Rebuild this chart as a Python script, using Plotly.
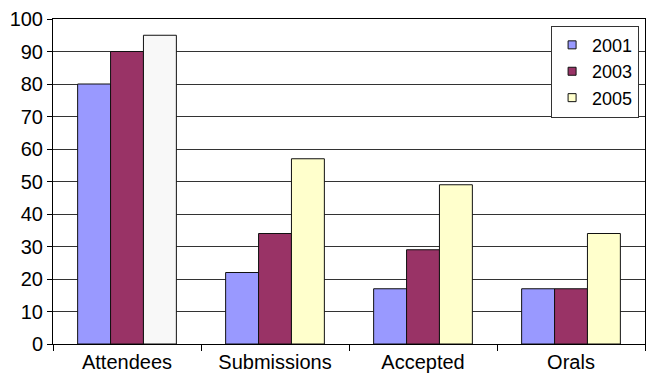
import plotly.graph_objects as go

categories = ["Attendees", "Submissions", "Accepted", "Orals"]
years = ["2001", "2003", "2005"]
y2001 = [80, 22, 17, 17]
y2003 = [90, 34, 29, 17]
y2005 = [95, 57, 49, 34]

c2001 = "#9999ff"
c2003 = "#993366"
c2005 = "#ffffcc"
c2005_bars = ["#f8f8f8", c2005, c2005, c2005]

fig = go.Figure()
line = dict(color="#111111", width=1)
fig.add_trace(go.Bar(x=categories, y=y2001, name=years[0], offsetgroup="a",
                     showlegend=False, marker=dict(color=c2001, line=line)))
fig.add_trace(go.Bar(x=categories, y=y2003, name=years[1], offsetgroup="b",
                     showlegend=False, marker=dict(color=c2003, line=line)))
fig.add_trace(go.Bar(x=categories, y=y2005, name=years[2], offsetgroup="c",
                     showlegend=False, marker=dict(color=c2005_bars, line=line)))
for name, col in zip(years, [c2001, c2003, c2005]):
    fig.add_trace(go.Scatter(x=[None], y=[None], mode="markers", name=name,
                             marker=dict(symbol="square", size=8, color=col,
                                         line=dict(color="#111111", width=1))))

fig.update_layout(
    width=647, height=377,
    margin=dict(l=53, r=2, t=19, b=33),
    paper_bgcolor="white", plot_bgcolor="white",
    barmode="group", bargap=0.333, bargroupgap=0,
    font=dict(family="Liberation Sans, Arial, sans-serif", size=20, color="black"),
    legend=dict(x=0.99, y=0.838, xanchor="right", yanchor="middle",
                bgcolor="white", bordercolor="#333333", borderwidth=1,
                font=dict(size=18), tracegroupgap=0, itemwidth=30),
    showlegend=True,
)
fig.update_xaxes(showline=True, linecolor="black", linewidth=1, mirror=True,
                 ticks="outside", tickson="boundaries", ticklen=6, tickcolor="black",
                 showgrid=False)
fig.update_yaxes(range=[0, 100], dtick=10, showline=True, linecolor="black", linewidth=1,
                 mirror=True, ticks="outside", ticklen=5, tickcolor="black",
                 showgrid=True, gridcolor="#333333", gridwidth=1, zeroline=False)

fig.write_html("out.html")
